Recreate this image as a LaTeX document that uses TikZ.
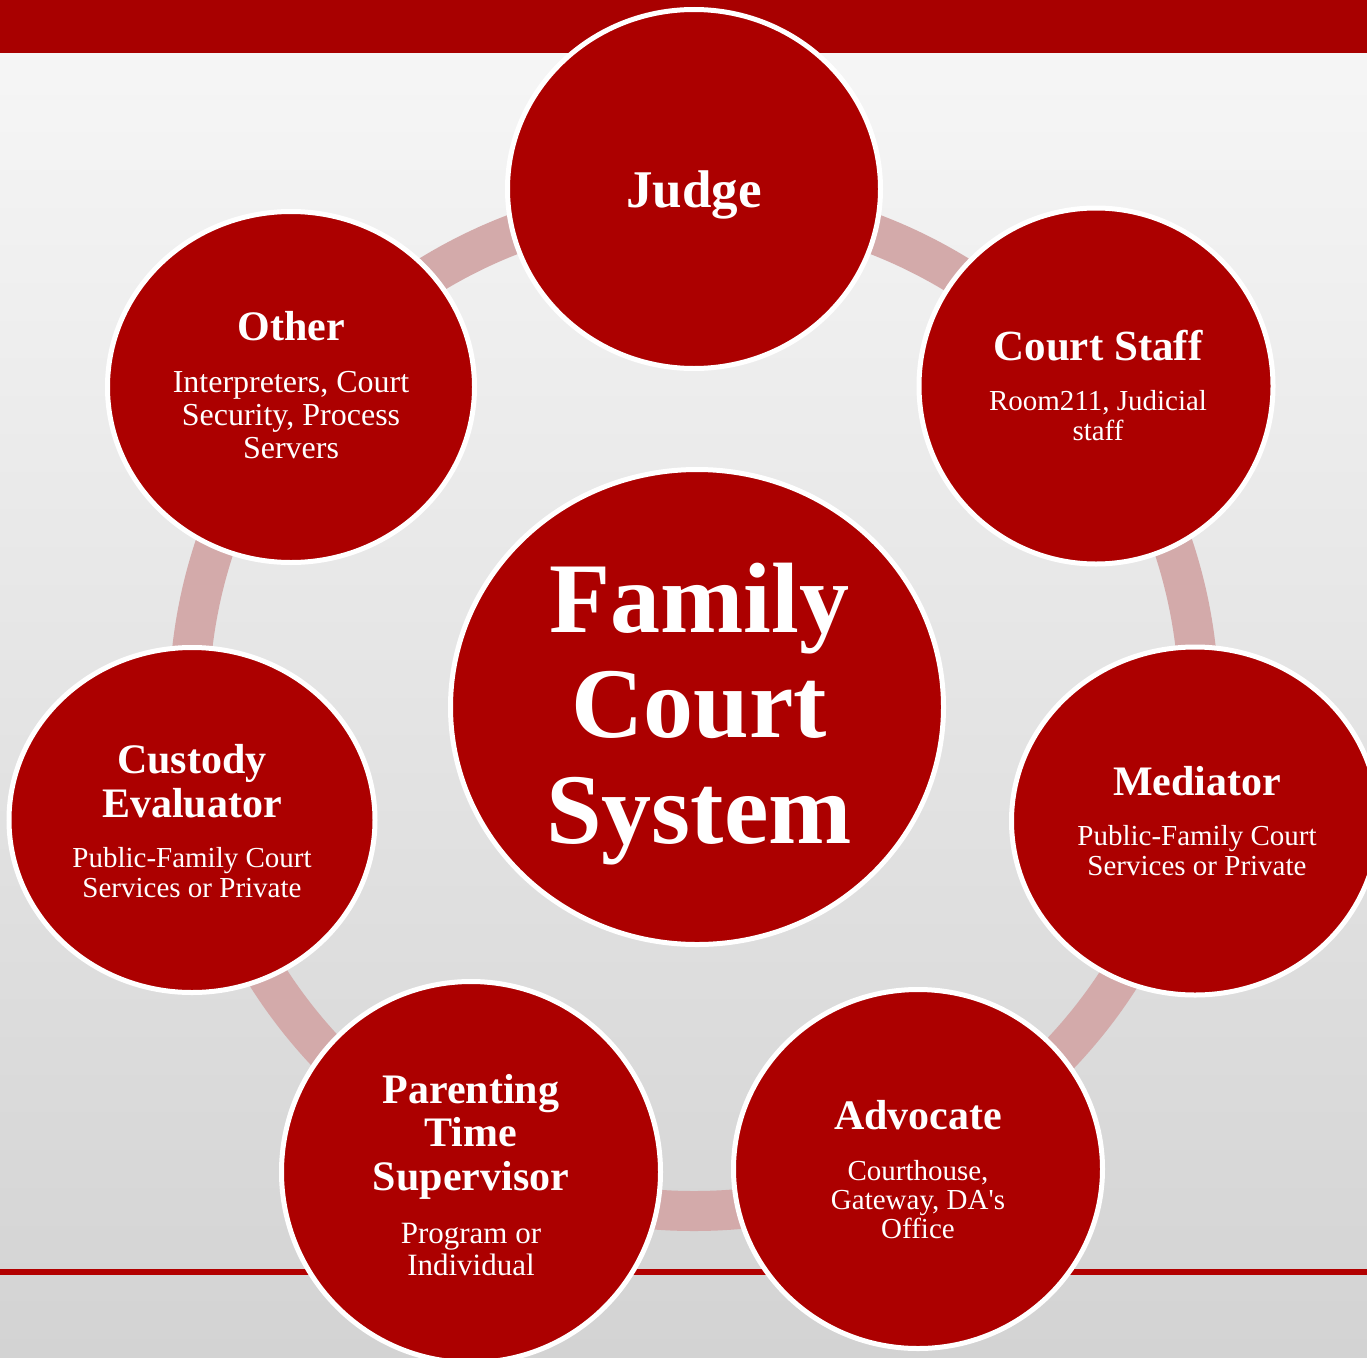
\documentclass[tikz,border=0pt]{standalone}
\usepackage{fontspec}
\setmainfont{Liberation Serif}
\usetikzlibrary{shapes.geometric}

\definecolor{courtred}{RGB}{172,0,0}
\definecolor{bandred}{RGB}{168,0,0}
\definecolor{linered}{RGB}{178,0,0}
\definecolor{ringpink}{RGB}{211,170,170}
\definecolor{papertop}{RGB}{247,247,247}
\definecolor{papermid}{RGB}{233,233,233}
\definecolor{paperbot}{RGB}{211,211,211}

\begin{document}
\begin{tikzpicture}[x=1pt,y=-1pt,
  disc/.style={ellipse, fill=courtred, draw=white, line width=5pt, inner sep=0pt},
  head/.style={anchor=base, text=white, inner sep=0pt,
               font=\bfseries\fontsize{42}{44}\selectfont},
  body/.style={anchor=base, text=white, inner sep=0pt,
               font=\fontsize{#1}{#1}\selectfont},
  body/.default=29,
  ring/.style={draw=ringpink, line width=40pt}
]
\useasboundingbox (0,0) rectangle (1367,1357);

% paper background, header band and footer rule
\shade[top color=papertop, middle color=papermid, bottom color=paperbot] (0,0) rectangle (1367,1357);
\fill[bandred] (0,0) rectangle (1367,53);
\fill[linered] (0,1269) rectangle (1367,1275);

% ring joining the satellites
\coordinate (hub) at (694,706);
\draw[ring] (hub) circle (505);

% hub circle
\node[disc, minimum width=493pt, minimum height=475pt] (core) at (697,707) {};
\node[anchor=base, text=white, inner sep=0pt,
      font=\bfseries\fontsize{100}{100}\selectfont] (coreA) at (699,632) {Family};
\node[anchor=base, text=white, inner sep=0pt,
      font=\bfseries\fontsize{100}{100}\selectfont] (coreB) at (699,737) {Court};
\node[anchor=base, text=white, inner sep=0pt,
      font=\bfseries\fontsize{100}{100}\selectfont] (coreC) at (699,843) {System};

% satellites
\node[disc, minimum width=373pt, minimum height=359pt] (judge) at (694,189) {};
\node[anchor=base, text=white, inner sep=0pt,
      font=\bfseries\fontsize{53}{53}\selectfont] (judgeH) at (694,207) {Judge};

\node[disc, minimum width=354pt, minimum height=356pt] (staff) at (1096,386) {};
\node[head, font=\bfseries\fontsize{43}{43}\selectfont] (staffH) at (1098,360) {Court Staff};
\node[body] (staffB1) at (1098,410) {Room211, Judicial};
\node[body] (staffB2) at (1098,440) {staff};

\node[disc, minimum width=367pt, minimum height=348pt] (mediator) at (1195,821) {};
\node[head] (mediatorH) at (1197,795) {Mediator};
\node[body] (mediatorB1) at (1197,845) {Public-Family Court};
\node[body] (mediatorB2) at (1197,875) {Services or Private};

\node[disc, minimum width=369pt, minimum height=359pt] (advocate) at (918,1169) {};
\node[head] (advocateH) at (918,1129) {Advocate};
\node[body] (advocateB1) at (918,1180) {Courthouse,};
\node[body] (advocateB2) at (918,1209) {Gateway, DA\textquotesingle s};
\node[body] (advocateB3) at (918,1238) {Office};

\node[disc, minimum width=379pt, minimum height=381pt] (parenting) at (471,1172) {};
\node[head] (parentingH1) at (471,1103) {Parenting};
\node[head] (parentingH2) at (471,1146) {Time};
\node[head] (parentingH3) at (471,1190) {Supervisor};
\node[body=31] (parentingB1) at (471,1243) {Program or};
\node[body=31] (parentingB2) at (471,1275) {Individual};

\node[disc, minimum width=366pt, minimum height=345pt] (custody) at (192,820) {};
\node[head] (custodyH1) at (192,773) {Custody};
\node[head] (custodyH2) at (192,817) {Evaluator};
\node[body] (custodyB1) at (192,867) {Public-Family Court};
\node[body] (custodyB2) at (192,897) {Services or Private};

\node[disc, minimum width=367pt, minimum height=351pt] (other) at (291,387) {};
\node[head] (otherH) at (291,340) {Other};
\node[body=32] (otherB1) at (291,392) {Interpreters, Court};
\node[body=32] (otherB2) at (291,425) {Security, Process};
\node[body=32] (otherB3) at (291,458) {Servers};
\end{tikzpicture}
\end{document}
